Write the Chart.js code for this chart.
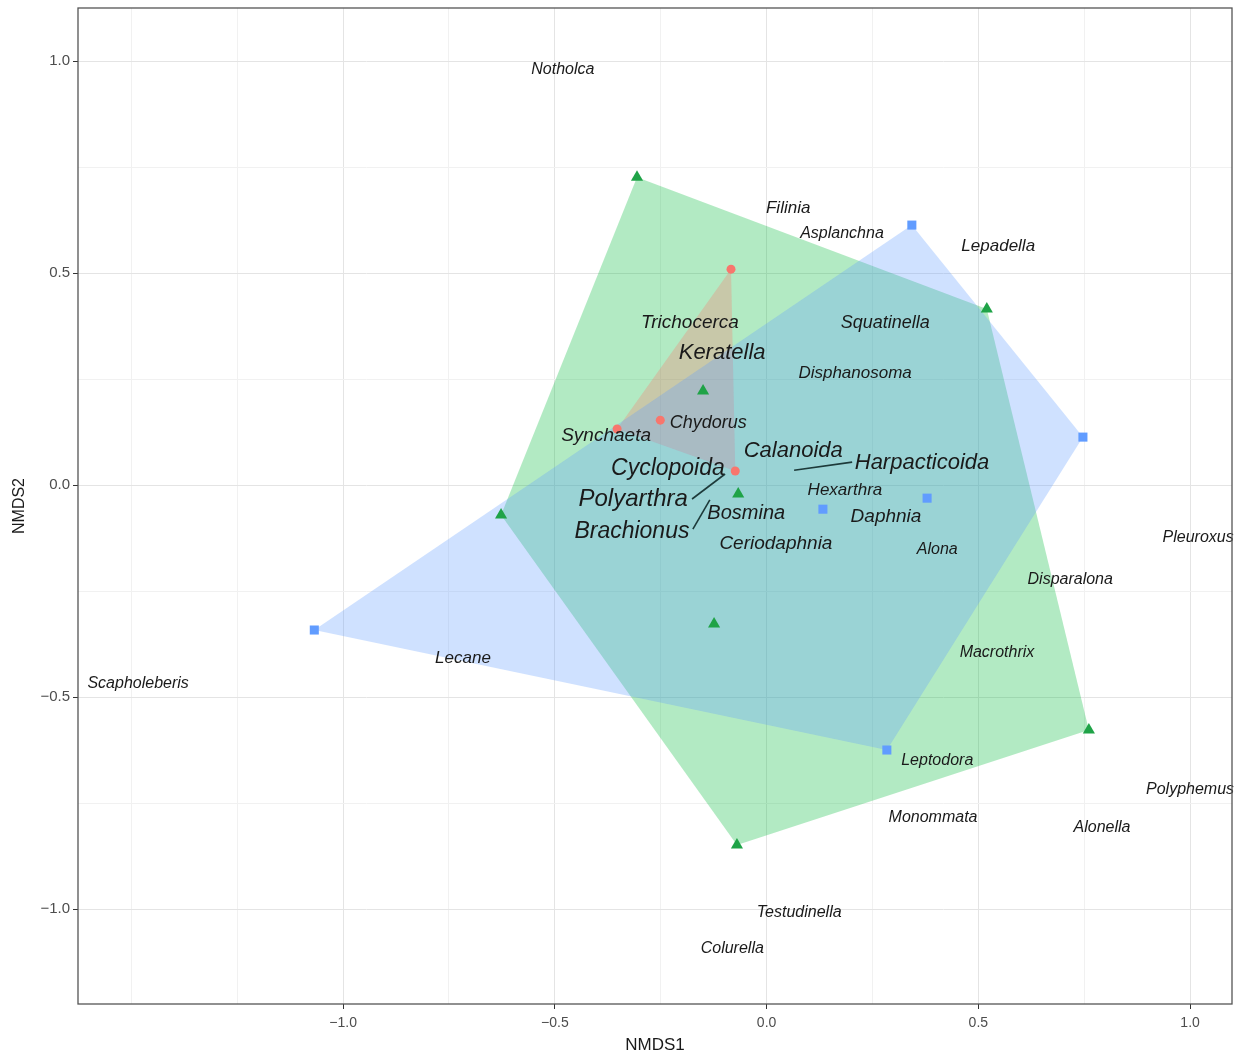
<!DOCTYPE html>
<html>
<head>
<meta charset="utf-8">
<script src="https://cdn.jsdelivr.net/npm/chart.js@4.4.1/dist/chart.umd.min.js"></script>
<style>
  html, body { margin: 0; padding: 0; background: #fff; }
  canvas { display: block; }
</style>
</head>
<body>
<canvas id="nmdsChart" width="1240" height="1056"></canvas>
<script>
// site scores per group (NMDS1, NMDS2)
const redX = [-0.084, -0.353, -0.251, -0.074];
const redY = [0.509, 0.132, 0.153, 0.033];
const greenX = [-0.306, 0.520, 0.761, -0.070, -0.627, -0.150, -0.067, -0.124];
const greenY = [0.726, 0.415, -0.578, -0.849, -0.071, 0.222, -0.021, -0.328];
const blueX = [0.343, 0.747, 0.379, 0.133, 0.284, -1.068];
const blueY = [0.613, 0.113, -0.031, -0.057, -0.625, -0.342];

// species label positions
const speciesNames = [
    "Notholca", "Filinia", "Asplanchna", "Lepadella", "Trichocerca", "Squatinella",
    "Keratella", "Disphanosoma", "Chydorus", "Synchaeta", "Calanoida", "Harpacticoida",
    "Cyclopoida", "Polyarthra", "Hexarthra", "Bosmina", "Daphnia", "Brachionus",
    "Ceriodaphnia", "Alona", "Pleuroxus", "Disparalona", "Macrothrix", "Lecane",
    "Scapholeberis", "Leptodora", "Polyphemus", "Monommata", "Alonella", "Testudinella",
    "Colurella",
];
const speciesX = [
    -0.481, 0.051, 0.178, 0.547, -0.181, 0.280,
    -0.105, 0.209, -0.138, -0.379, 0.063, 0.367,
    -0.233, -0.315, 0.185, -0.048, 0.282, -0.318,
    0.022, 0.403, 1.019, 0.717, 0.544, -0.717,
    -1.484, 0.403, 1.000, 0.393, 0.792, 0.077,
    -0.081,
];
const speciesY = [
    0.981, 0.653, 0.592, 0.564, 0.382, 0.382,
    0.311, 0.264, 0.146, 0.116, 0.080, 0.052,
    0.038, -0.033, -0.012, -0.068, -0.075, -0.111,
    -0.139, -0.153, -0.125, -0.222, -0.394, -0.408,
    -0.469, -0.649, -0.719, -0.785, -0.809, -1.009,
    -1.094,
];

// leader segments from label to species score
const leaderX1 = [-0.176, -0.174, 0.065];
const leaderY1 = [-0.033, -0.104, 0.035];
const leaderX2 = [-0.098, -0.134, 0.202];
const leaderY2 = [0.026, -0.035, 0.054];

// grid lines (minor + major) and labelled breaks
const xGridValues = [-1.5, -1.25, -1.0, -0.75, -0.5, -0.25, 0, 0.25, 0.5, 0.75, 1.0];
const yGridValues = [1.0, 0.75, 0.5, 0.25, 0, -0.25, -0.5, -0.75, -1.0];
const xBreaks = [-1.0, -0.5, 0, 0.5, 1.0];
const yBreaks = [-1.0, -0.5, 0, 0.5, 1.0];

// label font sizes (px), same order as speciesNames
const labelPx = [
    16, 17, 16, 17, 19, 18,
    22, 17, 18, 19, 22, 22,
    23, 24, 17, 20, 19, 23,
    19, 16, 16, 16, 16, 17,
    16, 16, 16, 16, 16, 16,
    16,
];

function toPoints(xs, ys) {
    return xs.map((x, i) => ({ x, y: ys[i] }));
}

function convexHull(pts) {
    const p = pts.slice().sort((a, b) => a.x - b.x || a.y - b.y);
    const cross = (o, a, b) => (a.x - o.x) * (b.y - o.y) - (a.y - o.y) * (b.x - o.x);
    const lower = [];
    for (const q of p) {
        while (lower.length >= 2 && cross(lower[lower.length - 2], lower[lower.length - 1], q) <= 0) lower.pop();
        lower.push(q);
    }
    const upper = [];
    for (let i = p.length - 1; i >= 0; i--) {
        const q = p[i];
        while (upper.length >= 2 && cross(upper[upper.length - 2], upper[upper.length - 1], q) <= 0) upper.pop();
        upper.push(q);
    }
    upper.pop();
    lower.pop();
    const hull = lower.concat(upper);
    hull.push(hull[0]);
    return hull;
}

const inList = (list, v) => list.some((b) => Math.abs(b - v) < 1e-6);
const fmtTick = (list, v) => (inList(list, v) ? v.toFixed(1).replace("-", "\u2212") : "");

const redPts = toPoints(redX, redY);
const greenPts = toPoints(greenX, greenY);
const bluePts = toPoints(blueX, blueY);

function hullDataset(pts, color, order) {
    return {
        data: convexHull(pts),
        showLine: true,
        fill: "shape",
        backgroundColor: color,
        borderWidth: 0,
        borderColor: "rgba(0,0,0,0)",
        pointRadius: 0,
        order,
    };
}

const leaderSets = leaderX1.map((x1, i) => ({
    data: [{ x: x1, y: leaderY1[i] }, { x: leaderX2[i], y: leaderY2[i] }],
    showLine: true,
    borderColor: "#1d3a3a",
    borderWidth: 1.6,
    pointRadius: 0,
    fill: false,
    order: 3,
}));

const speciesLabels = {
    id: "speciesLabels",
    afterDatasetsDraw(chart) {
        const { ctx, scales: { x, y } } = chart;
        ctx.save();
        ctx.textAlign = "center";
        ctx.textBaseline = "middle";
        ctx.fillStyle = "#1a1a1a";
        speciesNames.forEach((name, i) => {
            ctx.font = `italic ${labelPx[i]}px "Liberation Sans", Arial, sans-serif`;
            ctx.fillText(name, x.getPixelForValue(speciesX[i]), y.getPixelForValue(speciesY[i]));
        });
        ctx.restore();
    },
};

const panelBorder = {
    id: "panelBorder",
    afterDraw(chart) {
        const { ctx, chartArea: a } = chart;
        ctx.save();
        ctx.strokeStyle = "#555555";
        ctx.lineWidth = 1.3;
        ctx.strokeRect(a.left, a.top, a.right - a.left, a.bottom - a.top);
        ctx.restore();
    },
};

function gridOpts(breaks) {
    return {
        color: (c) => (inList(breaks, c.tick.value) ? "#e4e4e4" : "#f1f1f1"),
        lineWidth: 1,
        tickLength: 5,
        tickColor: (c) => (inList(breaks, c.tick.value) ? "#333333" : "rgba(0,0,0,0)"),
    };
}

new Chart(document.getElementById("nmdsChart"), {
    type: "scatter",
    data: {
        datasets: [
            { data: redPts, pointStyle: "circle", pointRadius: 4.5, backgroundColor: "#F8766D", borderWidth: 0, order: 0 },
            { data: greenPts, pointStyle: "triangle", pointRadius: 7, backgroundColor: "#1fa347", borderWidth: 0, order: 0 },
            { data: bluePts, pointStyle: "rect", pointRadius: 6.4, backgroundColor: "#619CFF", borderWidth: 0, order: 0 },
            ...leaderSets,
            hullDataset(bluePts, "rgba(97,156,255,0.30)", 4),
            hullDataset(redPts, "rgba(248,118,109,0.30)", 5),
            hullDataset(greenPts, "rgba(0,186,56,0.30)", 6),
        ],
    },
    options: {
        responsive: false,
        animation: false,
        events: [],
        layout: { padding: { top: 8, right: 8, left: 0, bottom: 0 } },
        plugins: { legend: { display: false }, tooltip: { enabled: false } },
        scales: {
            x: {
                type: "linear",
                min: -1.626,
                max: 1.099,
                afterBuildTicks: (s) => { s.ticks = xGridValues.map((v) => ({ value: v })); },
                afterFit: (s) => { s.height = 52; s.paddingLeft = 0; s.paddingRight = 0; },
                border: { display: false },
                grid: gridOpts(xBreaks),
                ticks: {
                    autoSkip: false,
                    maxRotation: 0,
                    padding: 6,
                    color: "#4d4d4d",
                    font: { family: '"Liberation Sans Narrow", "Liberation Sans", Arial', size: 14 },
                    callback: (v) => fmtTick(xBreaks, v),
                },
                title: {
                    display: true,
                    text: "NMDS1",
                    color: "#1a1a1a",
                    padding: { top: 0, bottom: 0 },
                    font: { family: '"Liberation Sans Narrow", "Liberation Sans", Arial', size: 17 },
                },
            },
            y: {
                type: "linear",
                min: -1.224,
                max: 1.125,
                afterBuildTicks: (s) => { s.ticks = yGridValues.map((v) => ({ value: v })); },
                afterFit: (s) => { s.width = 78; s.paddingTop = 0; s.paddingBottom = 0; },
                border: { display: false },
                grid: gridOpts(yBreaks),
                ticks: {
                    autoSkip: false,
                    padding: 3,
                    color: "#4d4d4d",
                    font: { family: '"Liberation Sans", Arial', size: 15 },
                    callback: (v) => fmtTick(yBreaks, v),
                },
                title: {
                    display: true,
                    text: "NMDS2",
                    color: "#1a1a1a",
                    padding: { top: 10, bottom: 0 },
                    font: { family: '"Liberation Sans", Arial', size: 16 },
                },
            },
        },
    },
    plugins: [speciesLabels, panelBorder],
});
</script>
</body>
</html>
